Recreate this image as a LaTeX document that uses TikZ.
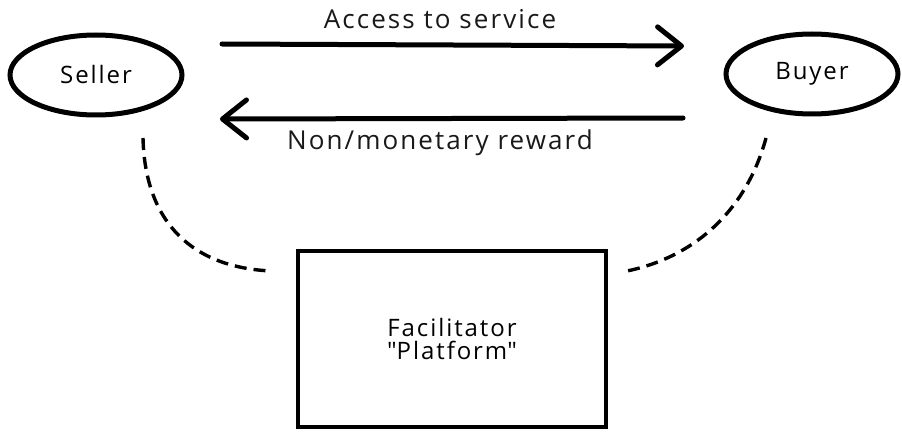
\documentclass[tikz,border=0pt]{standalone}
\usepackage{fontspec}
\setmainfont{Open Sans}[LetterSpace=8]
\usetikzlibrary{arrows.meta,shapes.geometric}
\begin{document}
\begin{tikzpicture}[x=1pt,y=-1pt,
  party/.style={draw=black,line width=5pt,ellipse,minimum width=172pt,minimum height=80pt,inner sep=0pt,font=\fontsize{24}{26}\selectfont},
  flow/.style={line width=5pt,line cap=round,-{Straight Barb[length=24pt,width=38pt,line cap=round,line join=round]}},
  lbl/.style={font=\fontsize{26}{28}\selectfont,text=black!90},
  link/.style={line width=3.4pt,dash pattern=on 12pt off 7pt},
  platformbox/.style={draw=black,line width=4.5pt,minimum width=308pt,minimum height=176pt,inner sep=0pt,align=center,font=\fontsize{24}{23}\selectfont}
]
\useasboundingbox (0,0) rectangle (902,433);
\node[party] (seller) at (96,75) {Seller};
\node[party] (buyer) at (812,74) {Buyer};
\coordinate (a1) at (222,44);
\coordinate (a2) at (684,46);
\coordinate (b1) at (683,118);
\coordinate (b2) at (220,119);
\draw[flow] (a1) -- (a2);
\draw[flow] (b1) -- (b2);
\node[lbl] (access) at (440,19) {Access to service};
\node[lbl] (reward) at (440,143) {Non/monetary reward};
\node[platformbox] (platform) at (452,339) {Facilitator\\\textquotedbl Platform\textquotedbl};
\coordinate (l1) at (143,138);
\coordinate (l2) at (272,271);
\coordinate (r1) at (766,138);
\coordinate (r2) at (627,271);
\draw[link] (l1) .. controls (145,225) and (195,268) .. (l2);
\draw[link] (r1) .. controls (745,215) and (690,258) .. (r2);
\end{tikzpicture}
\end{document}
